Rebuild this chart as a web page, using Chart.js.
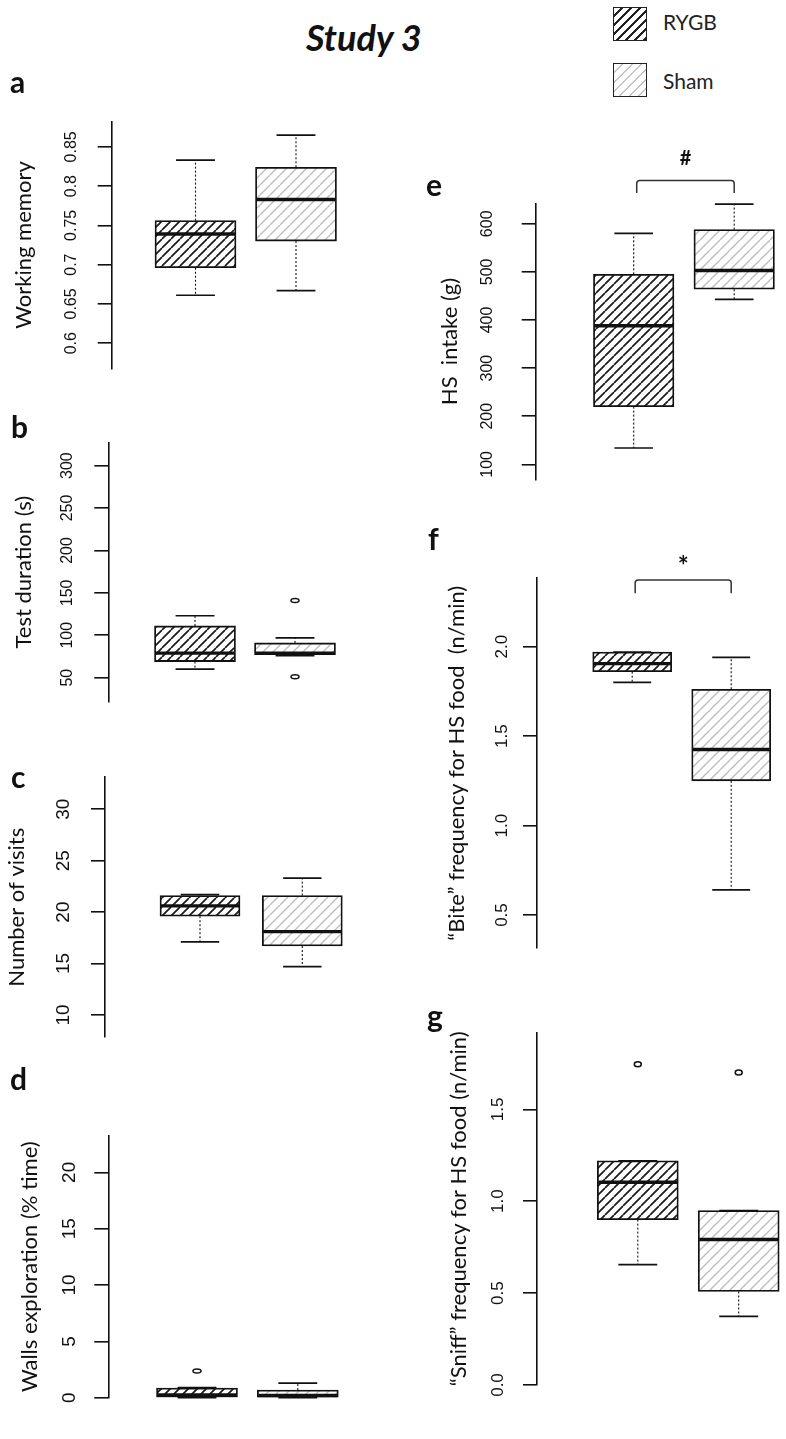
<!DOCTYPE html>
<html>
<head>
<meta charset="utf-8">
<script src="https://cdn.jsdelivr.net/npm/chart.js@4.4.1/dist/chart.umd.min.js"></script>
<style>
html, body { margin: 0; padding: 0; background: #fff; }
body { width: 786px; height: 1439px; position: relative; overflow: hidden; }
canvas.cv { position: absolute; }
.lab { position: absolute; font-family: Lato, 'Open Sans', sans-serif; font-weight: 700; font-size: 30px; line-height: 30px; color: #111; z-index: 2; }
#title { position: absolute; left: 306px; top: 19px; font-family: Lato, sans-serif; font-weight: 700; font-style: italic; font-size: 36px; line-height: 36px; color: #111; }
.legbox { position: absolute; left: 613px; width: 32px; height: 32px; border: 1.5px solid #222; }
.legtxt { position: absolute; left: 663px; font-family: Lato, sans-serif; font-size: 21px; line-height: 21px; color: #222; }
</style>
</head>
<body>
<div id="title">Study 3</div>
<div class="legbox" style="top:7px;background:repeating-linear-gradient(135deg,#fff 0px,#fff 4.7px,#222 4.7px,#222 6.4px);"></div>
<div class="legtxt" style="top:11px;">RYGB</div>
<div class="legbox" style="top:63px;background:repeating-linear-gradient(135deg,#fff 0px,#fff 5.4px,#c4c4c4 5.4px,#c4c4c4 6.8px);"></div>
<div class="legtxt" style="top:70px;">Sham</div>

<div class="lab" style="left:10px;top:66px;">a</div>
<div class="lab" style="left:11px;top:411px;">b</div>
<div class="lab" style="left:11px;top:761px;">c</div>
<div class="lab" style="left:10px;top:1063px;">d</div>
<div class="lab" style="left:426px;top:169px;">e</div>
<div class="lab" style="left:428px;top:523px;">f</div>
<div class="lab" style="left:427px;top:1000px;">g</div>

<canvas id="pa" class="cv"></canvas>
<canvas id="pb" class="cv"></canvas>
<canvas id="pc" class="cv"></canvas>
<canvas id="pd" class="cv"></canvas>
<canvas id="pe" class="cv"></canvas>
<canvas id="pf" class="cv"></canvas>
<canvas id="pg" class="cv"></canvas>

<script>
// ===== DATA =====
const groups = ['RYGB', 'Sham'];
// each box: [lower whisker, Q1, median, Q3, upper whisker]
const memoryRYGB = [0.661, 0.696, 0.739, 0.756, 0.833];
const memorySham = [0.667, 0.730, 0.783, 0.824, 0.865];
const memoryOutRYGB = [];
const memoryOutSham = [];
const memoryRange = [0.568, 0.882];
const memoryTicks = [0.6, 0.65, 0.7, 0.75, 0.8, 0.85];
const memoryTickLabels = ['0.6', '0.65', '0.7', '0.75', '0.8', '0.85'];

const durationRYGB = [60, 69, 79, 111, 123];
const durationSham = [76, 77, 79, 91, 97];
const durationOutRYGB = [];
const durationOutSham = [141, 51];
const durationRange = [21.7, 327];
const durationTicks = [50, 100, 150, 200, 250, 300];
const durationTickLabels = ['50', '100', '150', '200', '250', '300'];

const visitsRYGB = [17.1, 19.6, 20.6, 21.6, 21.7];
const visitsSham = [14.7, 16.7, 18.1, 21.6, 23.3];
const visitsOutRYGB = [];
const visitsOutSham = [];
const visitsRange = [7.84, 33.1];
const visitsTicks = [10, 15, 20, 25, 30];
const visitsTickLabels = ['10', '15', '20', '25', '30'];

const wallsRYGB = [0, 0.05, 0.25, 0.85, 0.9];
const wallsSham = [0, 0.05, 0.2, 0.68, 1.3];
const wallsOutRYGB = [2.37];
const wallsOutSham = [];
const wallsRange = [0, 23.25];
const wallsTicks = [0, 5, 10, 15, 20];
const wallsTickLabels = ['0', '5', '10', '15', '20'];

const intakeRYGB = [134, 220, 388, 495, 580];
const intakeSham = [443, 464, 503, 588, 641];
const intakeOutRYGB = [];
const intakeOutSham = [];
const intakeRange = [68, 642.6];
const intakeTicks = [100, 200, 300, 400, 500, 600];
const intakeTickLabels = ['100', '200', '300', '400', '500', '600'];
const intakeBracket = { from: 1.03, to: 2, top: 690, leg: 664, label: '#', labelAt: 735, size: 20 };

const biteRYGB = [1.80, 1.86, 1.905, 1.97, 1.97];
const biteSham = [0.64, 1.25, 1.425, 1.762, 1.94];
const biteOutRYGB = [];
const biteOutSham = [];
const biteRange = [0.314, 2.382];
const biteTicks = [0.5, 1.0, 1.5, 2.0];
const biteTickLabels = ['0.5', '1.0', '1.5', '2.0'];
const biteBracket = { from: 1.03, to: 2, top: 2.373, leg: 2.298, label: '*', labelAt: 2.445, size: 26 };

const sniffRYGB = [0.655, 0.90, 1.103, 1.22, 1.22];
const sniffSham = [0.373, 0.509, 0.792, 0.949, 0.949];
const sniffOutRYGB = [1.745];
const sniffOutSham = [1.70];
const sniffRange = [0, 1.917];
const sniffTicks = [0.0, 0.5, 1.0, 1.5];
const sniffTickLabels = ['0.0', '0.5', '1.0', '1.5'];

// ===== STYLE / LAYOUT =====
Chart.defaults.font.family = "'Liberation Sans', Arial, sans-serif";
Chart.defaults.color = '#111';
const TITLE_FONT = { family: "Lato, 'Open Sans', sans-serif", size: 22, lineHeight: 1.2 };
const TICK_LEN = 14;

function makeHatch(color, lw, s) {
  const c = document.createElement('canvas');
  c.width = s; c.height = s;
  const x = c.getContext('2d');
  x.fillStyle = '#fff';
  x.fillRect(0, 0, s, s);
  x.strokeStyle = color;
  x.lineWidth = lw;
  x.beginPath();
  for (let k = -s; k <= s; k += s) { x.moveTo(k, s); x.lineTo(k + s, 0); }
  x.stroke();
  return x.createPattern(c, 'repeat');
}
const hatchRYGB = makeHatch('#1a1a1a', 1.7, 9);
const hatchSham = makeHatch('#bdbdbd', 1.4, 10);

const measureCtx = document.createElement('canvas').getContext('2d');
function widest(labels, size) {
  measureCtx.font = size + "px 'Liberation Sans', Arial, sans-serif";
  return Math.max(...labels.map(l => measureCtx.measureText(l).width));
}

const boxDeco = {
  id: 'boxDeco',
  afterDatasetsDraw(chart, args, o) {
    const ctx = chart.ctx, xs = chart.scales.x, ys = chart.scales.y;
    const P = v => ys.getPixelForValue(v);
    const seg = (x1, y1, x2, y2) => { ctx.beginPath(); ctx.moveTo(x1, y1); ctx.lineTo(x2, y2); ctx.stroke(); };
    ctx.save();
    ctx.strokeStyle = '#111';
    o.stats.forEach((s, i) => {
      const cx = xs.getPixelForValue(i + 1);
      const hw = o.boxW / 2, cw = o.boxW * 0.24;
      ctx.lineWidth = 1.1; ctx.setLineDash([2, 2]);
      if (s[4] > s[3]) seg(cx, P(s[3]), cx, P(s[4]));
      if (s[0] < s[1]) seg(cx, P(s[1]), cx, P(s[0]));
      ctx.setLineDash([]); ctx.lineWidth = 1.7;
      seg(cx - cw, P(s[4]), cx + cw, P(s[4]));
      seg(cx - cw, P(s[0]), cx + cw, P(s[0]));
      ctx.lineWidth = 3.4;
      seg(cx - hw + 1, P(s[2]), cx + hw - 1, P(s[2]));
      ctx.lineWidth = 1.5;
      (o.out[i] || []).forEach(v => {
        ctx.beginPath(); ctx.ellipse(cx, P(v), o.orx, o.ory, 0, 0, Math.PI * 2); ctx.stroke();
      });
    });
    if (o.bracket) {
      const b = o.bracket;
      const x1 = xs.getPixelForValue(b.from), x2 = xs.getPixelForValue(b.to);
      const yt = P(b.top), yl = P(b.leg);
      ctx.strokeStyle = '#333'; ctx.lineWidth = 1.5;
      ctx.beginPath();
      ctx.moveTo(x1, yl); ctx.lineTo(x1, yt + 3); ctx.quadraticCurveTo(x1, yt, x1 + 3, yt);
      ctx.lineTo(x2 - 3, yt); ctx.quadraticCurveTo(x2, yt, x2, yt + 3); ctx.lineTo(x2, yl);
      ctx.stroke();
      ctx.fillStyle = '#111';
      ctx.font = "700 " + b.size + "px Lato, sans-serif";
      ctx.textAlign = 'center'; ctx.textBaseline = 'middle';
      ctx.fillText(b.label, (x1 + x2) / 2, P(b.labelAt));
    }
    ctx.restore();
  }
};

const panels = [
  { id: 'pa', stats: [memoryRYGB, memorySham], out: [memoryOutRYGB, memoryOutSham], range: memoryRange,
    ticks: memoryTicks, tickLabels: memoryTickLabels, title: 'Working memory',
    L: { left: 0, top: 95, width: 380, height: 300, axisX: 111.7, axisTop: 121.7, axisBottom: 368.3, c1: 195.5, c2: 296, boxW: 81, titleX: 24, tickFont: 16, tickGap: 40, orx: 4, ory: 2 } },
  { id: 'pb', stats: [durationRYGB, durationSham], out: [durationOutRYGB, durationOutSham], range: durationRange,
    ticks: durationTicks, tickLabels: durationTickLabels, title: 'Test duration (s)',
    L: { left: 0, top: 405, width: 380, height: 320, axisX: 108.3, axisTop: 442.7, axisBottom: 701.7, c1: 195, c2: 295, boxW: 81, titleX: 24, tickFont: 16, tickGap: 41, orx: 4, ory: 2 } },
  { id: 'pc', stats: [visitsRYGB, visitsSham], out: [visitsOutRYGB, visitsOutSham], range: visitsRange,
    ticks: visitsTicks, tickLabels: visitsTickLabels, title: 'Number of visits',
    L: { left: 0, top: 745, width: 380, height: 320, axisX: 105, axisTop: 777.3, axisBottom: 1042.7, c1: 200, c2: 302.3, boxW: 80, titleX: 16.5, tickFont: 19, tickGap: 41, orx: 4, ory: 2 } },
  { id: 'pd', stats: [wallsRYGB, wallsSham], out: [wallsOutRYGB, wallsOutSham], range: wallsRange,
    ticks: wallsTicks, tickLabels: wallsTickLabels, title: 'Walls exploration (% time)',
    L: { left: 0, top: 1100, width: 380, height: 330, axisX: 108.3, axisTop: 1135.7, axisBottom: 1397.7, c1: 197, c2: 297.8, boxW: 81, titleX: 30, tickFont: 19, tickGap: 39, orx: 4, ory: 2 } },
  { id: 'pe', stats: [intakeRYGB, intakeSham], out: [intakeOutRYGB, intakeOutSham], range: intakeRange,
    ticks: intakeTicks, tickLabels: intakeTickLabels, title: 'HS  intake (g)', bracket: intakeBracket,
    L: { left: 380, top: 140, width: 406, height: 370, axisX: 535.7, axisTop: 203.3, axisBottom: 486.7, c1: 633.7, c2: 734.2, boxW: 80.5, titleX: 449.5, tickFont: 16, tickGap: 48, orx: 4, ory: 2 } },
  { id: 'pf', stats: [biteRYGB, biteSham], out: [biteOutRYGB, biteOutSham], range: biteRange,
    ticks: biteTicks, tickLabels: biteTickLabels, title: '\u201CBite\u201D frequency for HS food  (n/min)', bracket: biteBracket,
    L: { left: 380, top: 530, width: 406, height: 440, axisX: 537, axisTop: 578.3, axisBottom: 948.3, c1: 632.2, c2: 731.2, boxW: 79, titleX: 457, tickFont: 17, tickGap: 35, orx: 4, ory: 2 } },
  { id: 'pg', stats: [sniffRYGB, sniffSham], out: [sniffOutRYGB, sniffOutSham], range: sniffRange,
    ticks: sniffTicks, tickLabels: sniffTickLabels, title: '\u201CSniff\u201D frequency for HS food (n/min)',
    L: { left: 380, top: 990, width: 406, height: 445, axisX: 537, axisTop: 1032.7, axisBottom: 1385, c1: 637.8, c2: 738.7, boxW: 81, titleX: 459, tickFont: 17, tickGap: 39, orx: 3.5, ory: 2.5 } }
];

panels.forEach(p => {
  const L = p.L;
  const cv = document.getElementById(p.id);
  cv.width = L.width; cv.height = L.height;
  cv.style.left = L.left + 'px'; cv.style.top = L.top + 'px';
  cv.style.width = L.width + 'px'; cv.style.height = L.height + 'px';

  const padRight = 5;
  const sep = L.c2 - L.c1;
  const plotRight = L.left + L.width - padRight;
  const xmin = 1 - (L.c1 - L.axisX) / sep;
  const xmax = 2 + (plotRight - L.c2) / sep;
  const titleHalf = TITLE_FONT.size * TITLE_FONT.lineHeight / 2;
  const padLeft = L.titleX - L.left - titleHalf;
  const axisWidth = L.axisX - L.left - padLeft;
  const tickPad = L.tickGap - TICK_LEN - widest(p.tickLabels, L.tickFont) / 2;

  new Chart(cv, {
    type: 'bar',
    data: {
      labels: groups,
      datasets: [{
        label: 'box',
        data: groups.map((g, i) => ({ x: i + 1, y: [p.stats[i][1], p.stats[i][3]] })),
        backgroundColor: [hatchRYGB, hatchSham],
        borderColor: '#111',
        borderWidth: 1.8,
        borderSkipped: false,
        barThickness: L.boxW,
        grouped: false
      }]
    },
    options: {
      responsive: false,
      animation: false,
      devicePixelRatio: 1,
      events: [],
      layout: { padding: { top: L.axisTop - L.top, bottom: L.top + L.height - L.axisBottom, left: padLeft, right: padRight } },
      plugins: {
        legend: { display: false },
        tooltip: { enabled: false },
        boxDeco: { stats: p.stats, out: p.out, boxW: L.boxW, orx: L.orx, ory: L.ory, bracket: p.bracket || null }
      },
      scales: {
        x: { type: 'linear', min: xmin, max: xmax, display: false, offset: false },
        y: {
          type: 'linear',
          min: p.range[0], max: p.range[1],
          afterBuildTicks: s => { s.ticks = p.ticks.map(v => ({ value: v })); },
          afterFit: s => { s.width = axisWidth; },
          grid: { display: true, drawOnChartArea: false, drawTicks: true, tickLength: TICK_LEN, color: '#111', lineWidth: 1.6 },
          border: { display: true, color: '#111', width: 1.6 },
          ticks: {
            autoSkip: false,
            minRotation: 90, maxRotation: 90,
            crossAlign: 'center',
            padding: tickPad,
            color: '#111',
            font: { size: L.tickFont },
            callback: (v, i) => p.tickLabels[i]
          },
          title: { display: true, text: p.title, color: '#111', font: TITLE_FONT, padding: { top: 0, bottom: 0 } }
        }
      }
    },
    plugins: [boxDeco]
  });
});
</script>
</body>
</html>
